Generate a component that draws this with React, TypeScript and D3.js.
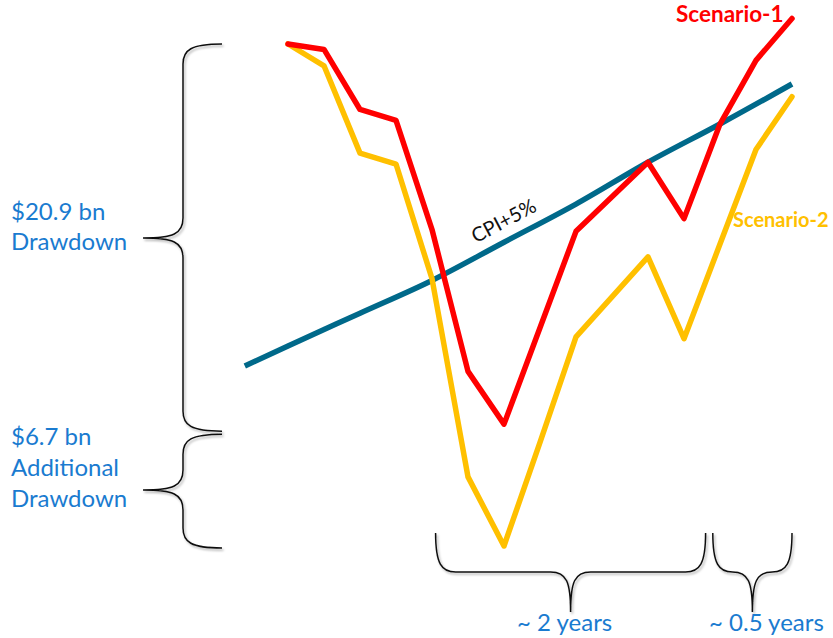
import React from "react";
import * as d3 from "d3";

// Cumulative change vs. starting value, $ bn, at each period index
const periods = [0, 1, 2, 3, 4, 5, 6, 7, 8, 9, 10, 11, 12, 13, 14];
const scenario1 = [0, -0.3, -3.6, -4.2, -10.2, -18.0, -20.9, -15.6, -10.3, -8.4, -6.5, -9.6, -4.4, -0.9, 1.4];
const scenario2 = [0, -1.2, -6.0, -6.6, -12.9, -23.8, -27.6, -21.9, -16.1, -13.9, -11.7, -16.2, -11.0, -5.8, -2.9];
const cpiPeriods = [-1.2, 0, 2, 4, 6, 8, 10, 12, 14];
const cpiPlus5 = [-17.7, -16.6, -14.8, -13.0, -10.9, -8.8, -6.5, -4.4, -2.2];

const drawdownLabel = ["$20.9 bn", "Drawdown"];
const additionalLabel = ["$6.7 bn", "Additional", "Drawdown"];
const durationLabels = ["~ 2 years", "~ 0.5 years"];
const durationSpans: [number, number][] = [[4.1, 11.6], [11.8, 14]];
const durationLabelShift = [-6, 14];

const W = 833;
const H = 638;
const FONT = "Lato, 'Open Sans', sans-serif";
const BLUE = "#1a7bd0";

const x = d3.scaleLinear().domain([0, 14]).range([288, 792]);
const y = d3.scaleLinear().domain([-27.6, 0]).range([546, 44]);

// Vertical curly brace opening to the right, tip pointing left
function vBrace(xr: number, y0: number, y1: number, tipY: number) {
  const xs = xr - 39; // spine
  const xt = xr - 79; // tip
  const r = 20;
  const p = d3.path();
  p.moveTo(xr, y0);
  p.bezierCurveTo(xs + 8, y0, xs, y0 + 6, xs, y0 + Math.min(r, (tipY - y0) / 2));
  p.lineTo(xs, tipY - Math.min(r, (tipY - y0) / 2));
  p.bezierCurveTo(xs, tipY - 4, xs - 10, tipY, xt, tipY);
  p.bezierCurveTo(xs - 10, tipY, xs, tipY + 4, xs, tipY + Math.min(r, (y1 - tipY) / 2));
  p.lineTo(xs, y1 - Math.min(r, (y1 - tipY) / 2));
  p.bezierCurveTo(xs, y1 - 6, xs + 8, y1, xr, y1);
  return p.toString();
}

// Horizontal curly brace opening upward, tip pointing down
function hBrace(x0: number, x1: number, tipX: number, yTop: number) {
  const ys = yTop + 39;
  const yt = yTop + 79;
  const r0 = Math.min(20, (tipX - x0) / 2);
  const r1 = Math.min(20, (x1 - tipX) / 2);
  const p = d3.path();
  p.moveTo(x0, yTop);
  p.bezierCurveTo(x0, ys - 8, x0 + 6, ys, x0 + r0, ys);
  p.lineTo(tipX - r0, ys);
  p.bezierCurveTo(tipX - 4, ys, tipX, ys + 10, tipX, yt);
  p.bezierCurveTo(tipX, ys + 10, tipX + 4, ys, tipX + r1, ys);
  p.lineTo(x1 - r1, ys);
  p.bezierCurveTo(x1 - 6, ys, x1, ys - 8, x1, yTop);
  return p.toString();
}

export default function App() {
  const line = d3
    .line<[number, number]>()
    .x((d) => x(d[0]))
    .y((d) => y(d[1]));
  const cpiLine = d3
    .line<[number, number]>()
    .x((d) => x(d[0]))
    .y((d) => y(d[1]))
    .curve(d3.curveMonotoneX);

  const s1 = periods.map((p, i) => [p, scenario1[i]] as [number, number]);
  const s2 = periods.map((p, i) => [p, scenario2[i]] as [number, number]);
  const cpi = cpiPeriods.map((p, i) => [p, cpiPlus5[i]] as [number, number]);

  const trough1 = d3.min(scenario1) as number;
  const trough2 = d3.min(scenario2) as number;
  const yTop = y(0);
  const yT1 = y(trough1);
  const yT2 = y(trough2);

  const braceBottomTop = 533;

  // Rotation of the CPI label follows the line's local slope
  const ax = x(6), ay = y(-10.9), bx = x(8), by = y(-8.8);
  const angle = (Math.atan2(by - ay, bx - ax) * 180) / Math.PI;

  return (
    <svg
      width={W}
      height={H}
      viewBox={`0 0 ${W} ${H}`}
      style={{ position: "absolute", left: 0, top: 0, background: "#fff" }}
    >
      <defs>
        <filter id="braceShadow" x="-20%" y="-20%" width="140%" height="140%">
          <feDropShadow dx="1.5" dy="2" stdDeviation="1.2" floodColor="#000" floodOpacity="0.3" />
        </filter>
      </defs>

      {/* Braces */}
      <g fill="none" stroke="#111" strokeWidth={1.5} filter="url(#braceShadow)">
        <path d={vBrace(222, yTop, yT1 + 7, 238)} />
        <path d={vBrace(222, yT1 + 10, yT2 + 2, 490)} />
        {durationSpans.map(([a, b], i) => (
          <path key={i} d={hBrace(x(a), x(b), (x(a) + x(b)) / 2, braceBottomTop)} />
        ))}
      </g>

      {/* Series */}
      <path d={cpiLine(cpi) as string} fill="none" stroke="#00698a" strokeWidth={5.5} strokeLinecap="butt" />
      <path d={line(s2) as string} fill="none" stroke="#ffc000" strokeWidth={5.5} strokeLinejoin="round" strokeLinecap="round" />
      <path d={line(s1) as string} fill="none" stroke="#ff0000" strokeWidth={5.5} strokeLinejoin="round" strokeLinecap="round" />

      {/* Series labels */}
      <text x={676} y={22} fill="#ff0000" fontFamily={FONT} fontWeight={700} fontSize={22.5}>
        Scenario-1
      </text>
      <text x={733} y={227} fill="#ffc000" fontFamily={FONT} fontWeight={700} fontSize={20}>
        Scenario-2
      </text>
      <text
        transform={`translate(507,227) rotate(${angle})`}
        textAnchor="middle"
        fill="#111"
        fontFamily={FONT}
        fontSize={20}
      >
        CPI+5%
      </text>

      {/* Drawdown annotations */}
      <g fill={BLUE} fontFamily={FONT} fontSize={24}>
        {drawdownLabel.map((t, i) => (
          <text key={t} x={11} y={220 + i * 30}>
            {t}
          </text>
        ))}
        {additionalLabel.map((t, i) => (
          <text key={t + i} x={11} y={445 + i * 31}>
            {t}
          </text>
        ))}
        {durationLabels.map((t, i) => {
          const [a, b] = durationSpans[i];
          return (
            <text key={t} x={(x(a) + x(b)) / 2 + durationLabelShift[i]} y={631} textAnchor="middle">
              {t}
            </text>
          );
        })}
      </g>
    </svg>
  );
}
